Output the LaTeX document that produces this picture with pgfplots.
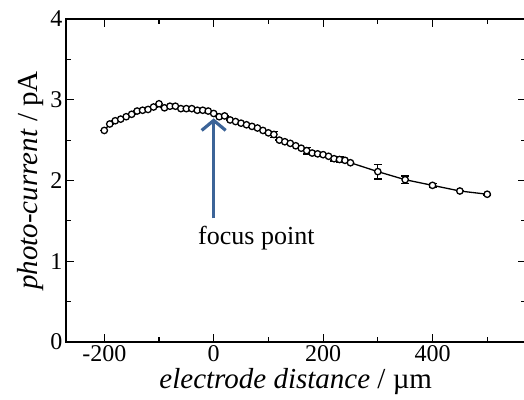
\documentclass[border=0pt]{standalone}
\usepackage{pgfplots}
\pgfplotsset{compat=1.18}
\usepackage{pgfplotstable}
\usepackage{fontspec}
\setmainfont{Liberation Serif}
\usetikzlibrary{arrows.meta}
\definecolor{arrowblue}{RGB}{60,100,152}
\pgfplotstableread{
x y e
-200 2.62 0
-190 2.70 0
-180 2.74 0
-170 2.76 0
-160 2.79 0
-150 2.82 0
-140 2.86 0
-130 2.87 0
-120 2.88 0
-110 2.91 0
-100 2.95 0
-90 2.90 0
-80 2.92 0
-70 2.92 0
-60 2.89 0
-50 2.89 0
-40 2.89 0
-30 2.87 0
-20 2.87 0
-10 2.86 0
0 2.83 0
10 2.79 0
20 2.80 0
30 2.75 0
40 2.73 0
50 2.71 0
60 2.69 0
70 2.67 0
80 2.65 0
90 2.62 0
100 2.59 0
110 2.57 0.04
120 2.50 0
130 2.48 0
140 2.46 0
150 2.43 0
160 2.40 0
170 2.37 0.04
180 2.34 0
190 2.33 0
200 2.32 0
210 2.30 0
220 2.27 0.03
230 2.26 0.03
240 2.25 0
250 2.22 0
300 2.11 0.09
350 2.01 0.045
400 1.94 0.02
450 1.87 0.01
500 1.83 0.01
}\datatable
\begin{document}
\begin{tikzpicture}
\begin{axis}[
 scale only axis, width=459.5pt, height=323pt,
 xmin=-270, xmax=570, ymin=0, ymax=4,
 xtick={-200,0,200,400}, xticklabels={-200,0,200,400},
 minor xtick={-100,100,300,500},
 ytick={0,1,2,3,4}, yticklabels={0,1,2,3,4},
 minor ytick={0.5,1.5,2.5,3.5},
 tick align=inside, major tick length=8pt, minor tick length=5pt,
 tick style={line width=1.2pt, black},
 axis line style={line width=1.5pt},
 ticklabel style={font=\fontsize{24}{28}\selectfont},
 /pgf/number format/assume math mode=true,
 xlabel={\textit{electrode distance} / µm},
 ylabel={\textit{photo-current} / pA},
 label style={font=\fontsize{29}{32}\selectfont},
 clip=false,
]
\addplot[black, line width=1.3pt, mark=*, mark size=3.2pt,
  mark options={fill=white, line width=1.3pt},
  error bars/.cd, y dir=both, y explicit,
  error bar style={line width=1.3pt},
  error mark options={rotate=90, mark size=4pt, line width=1.3pt}]
  table[x=x, y=y, y error=e] {\datatable};
\draw[color=arrowblue, line width=3.2pt, -{Straight Barb[length=10pt,width=24pt]}]
  (axis cs:0,1.53) -- (axis cs:0,2.77);
\node[font=\fontsize{26}{30}\selectfont] at (axis cs:78,1.29) {focus point};
\end{axis}
\pgfresetboundingbox
\path[use as bounding box] ([xshift=-66pt,yshift=-57pt]current axis.south west) rectangle ([xshift=-1.5pt,yshift=19pt]current axis.north east);
\end{tikzpicture}
\end{document}
